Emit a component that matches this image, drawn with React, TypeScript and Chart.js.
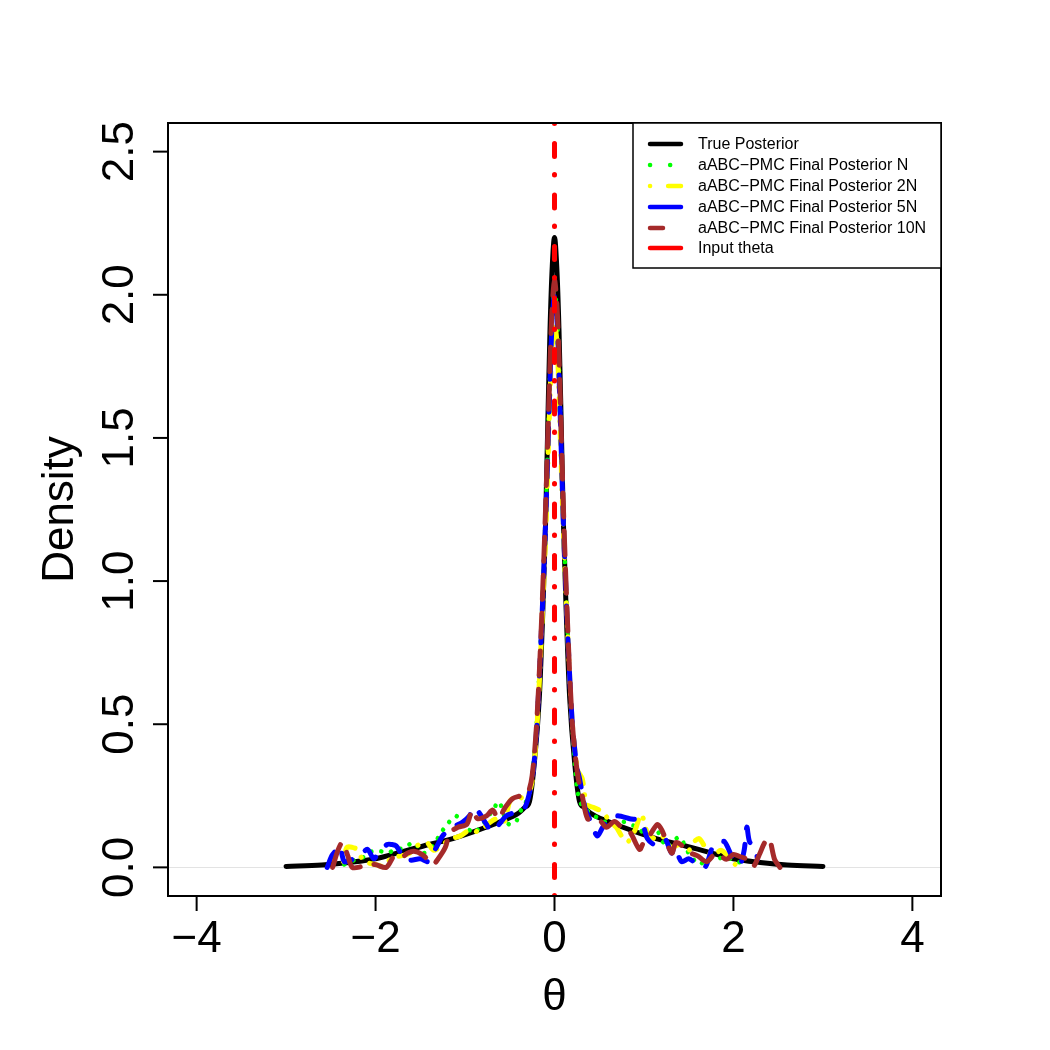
import React, { useEffect, useRef } from "react";
import { Chart, registerables } from "chart.js";

Chart.register(...registerables);

// ---------- axes ----------
const xLimits = [-4.32, 4.32];
const yLimits = [-0.1, 2.6];
const xTicks = [-4, -2, 0, 2, 4];
const xTickLabels = ["\u22124", "\u22122", "0", "2", "4"];
const yTicks = [0, 0.5, 1, 1.5, 2, 2.5];
const yTickLabels = ["0.0", "0.5", "1.0", "1.5", "2.0", "2.5"];
const xTitle = "\u03b8";
const yTitle = "Density";
const inputTheta = 0;

// ---------- series ----------
const trueX = [-3, -2.6, -2.3, -2, -1.7, -1.4, -1.2, -0.9, -0.6, -0.4, -0.33, -0.28, -0.23, -0.17, -0.13, -0.1, -0.075, -0.05, -0.025, 0, 0.025, 0.05, 0.075, 0.1, 0.13, 0.17, 0.23, 0.28, 0.33, 0.4, 0.6, 0.9, 1.2, 1.4, 1.7, 2, 2.3, 2.6, 3];
const trueY = [0.003, 0.008, 0.017, 0.03, 0.055, 0.08, 0.095, 0.125, 0.16, 0.19, 0.21, 0.23, 0.35, 0.59, 0.9, 1.2, 1.55, 1.88, 2.1, 2.2, 2.1, 1.88, 1.55, 1.2, 0.9, 0.59, 0.35, 0.23, 0.21, 0.19, 0.16, 0.125, 0.095, 0.08, 0.055, 0.03, 0.017, 0.008, 0.003];

const nX = [-2.35, -2.28, -2.2, -2.1, -2.04, -1.94, -1.86, -1.8, -1.72, -1.67, -1.57, -1.46, -1.35, -1.27, -1.2, -1.1, -1.03, -0.95, -0.9, -0.78, -0.67, -0.62, -0.54, -0.5, -0.43, -0.36, -0.3, -0.25, -0.2, -0.15, -0.1, -0.06, -0.03, 0, 0.03, 0.06, 0.1, 0.15, 0.2, 0.25, 0.3, 0.4, 0.5, 0.64, 0.75, 0.85, 0.92, 1.05, 1.15, 1.25, 1.32, 1.4, 1.5, 1.62, 1.7, 1.81, 1.93, 2.02, 2.1];
const nY = [0.01, 0.02, 0.03, 0.04, 0.056, 0.056, 0.05, 0.06, 0.065, 0.07, 0.087, 0.05, 0.08, 0.12, 0.15, 0.18, 0.14, 0.13, 0.12, 0.16, 0.21, 0.23, 0.16, 0.15, 0.16, 0.21, 0.24, 0.32, 0.5, 0.82, 1.22, 1.63, 1.9, 2.02, 1.92, 1.64, 1.22, 0.8, 0.49, 0.28, 0.22, 0.19, 0.17, 0.15, 0.16, 0.15, 0.14, 0.11, 0.125, 0.07, 0.09, 0.105, 0.05, 0.01, 0.03, 0.03, 0.035, 0.02, 0.017];

const n2X = [-2.36, -2.32, -2.26, -2.21, -2.15, -2.1, -2.0, -1.9, -1.82, -1.72, -1.62, -1.55, -1.43, -1.35, -1.25, -1.15, -1.05, -0.95, -0.84, -0.75, -0.65, -0.56, -0.5, -0.41, -0.35, -0.3, -0.25, -0.2, -0.15, -0.1, -0.06, -0.03, 0, 0.03, 0.06, 0.1, 0.15, 0.2, 0.26, 0.31, 0.36, 0.43, 0.5, 0.56, 0.62, 0.69, 0.75, 0.82, 0.9, 0.97, 1.04, 1.12, 1.2, 1.3, 1.4, 1.5, 1.56, 1.62, 1.71, 1.78, 1.86, 1.95, 2.02];
const n2Y = [0.02, 0.07, 0.07, 0.063, 0.03, 0.017, 0.01, 0.003, 0.035, 0.04, 0.05, 0.073, 0.087, 0.06, 0.08, 0.1, 0.11, 0.13, 0.125, 0.15, 0.17, 0.16, 0.23, 0.25, 0.24, 0.25, 0.3, 0.47, 0.78, 1.15, 1.55, 1.8, 1.9, 1.82, 1.55, 1.17, 0.8, 0.5, 0.34, 0.31, 0.22, 0.21, 0.2, 0.185, 0.16, 0.14, 0.11, 0.09, 0.13, 0.185, 0.12, 0.1, 0.11, 0.07, 0.08, 0.06, 0.09, 0.1, 0.056, 0.04, 0.06, 0.035, 0.01];

const n5X = [-2.54, -2.49, -2.44, -2.4, -2.35, -2.28, -2.21, -2.16, -2.09, -2.02, -1.96, -1.87, -1.82, -1.77, -1.72, -1.68, -1.6, -1.5, -1.41, -1.36, -1.32, -1.25, -1.14, -1.03, -0.95, -0.9, -0.84, -0.76, -0.7, -0.62, -0.54, -0.46, -0.39, -0.33, -0.28, -0.24, -0.2, -0.15, -0.1, -0.06, -0.03, 0, 0.03, 0.06, 0.1, 0.15, 0.2, 0.25, 0.28, 0.34, 0.39, 0.44, 0.48, 0.54, 0.62, 0.7, 0.84, 0.97, 1.04, 1.12, 1.23, 1.31, 1.34, 1.42, 1.5, 1.57, 1.68, 1.77, 1.84, 1.9, 1.99, 2.07, 2.12, 2.15, 2.18, 2.24, 2.27];
const n5Y = [0.0, 0.04, 0.06, 0.075, 0.02, 0.025, 0.035, 0.045, 0.063, 0.03, 0.056, 0.08, 0.08, 0.075, 0.05, 0.028, 0.025, 0.03, 0.02, 0.05, 0.07, 0.11, 0.14, 0.157, 0.18, 0.21, 0.19, 0.15, 0.125, 0.15, 0.18, 0.19, 0.195, 0.21, 0.26, 0.33, 0.48, 0.8, 1.2, 1.6, 1.88, 2.0, 1.9, 1.62, 1.2, 0.8, 0.5, 0.35, 0.31, 0.21, 0.17, 0.13, 0.11, 0.14, 0.17, 0.18, 0.17, 0.16, 0.1, 0.08, 0.1, 0.05, 0.073, 0.02, 0.03, 0.017, 0.0, 0.073, 0.085, 0.09, 0.035, 0.01, 0.06, 0.14, 0.09, 0.07, 0.028];

const n10X = [-2.48, -2.42, -2.37, -2.31, -2.26, -2.15, -2.01, -1.88, -1.79, -1.71, -1.64, -1.57, -1.48, -1.42, -1.36, -1.3, -1.22, -1.17, -1.08, -0.98, -0.92, -0.86, -0.76, -0.69, -0.63, -0.55, -0.47, -0.38, -0.3, -0.25, -0.2, -0.15, -0.1, -0.06, -0.03, 0, 0.03, 0.06, 0.1, 0.15, 0.2, 0.26, 0.31, 0.37, 0.45, 0.52, 0.58, 0.67, 0.75, 0.84, 0.95, 1.0, 1.06, 1.15, 1.2, 1.31, 1.36, 1.45, 1.51, 1.6, 1.7, 1.81, 1.92, 2.0, 2.07, 2.15, 2.22, 2.29, 2.35, 2.4, 2.46, 2.52];
const n10Y = [0.0, 0.06, 0.087, 0.04, 0.0, 0.003, 0.01, 0.0, 0.04, 0.035, 0.05, 0.056, 0.045, 0.028, 0.01, 0.03, 0.07, 0.12, 0.14, 0.15, 0.2, 0.17, 0.18, 0.2, 0.17, 0.21, 0.24, 0.25, 0.26, 0.32, 0.5, 0.82, 1.25, 1.65, 1.93, 2.05, 1.95, 1.68, 1.25, 0.82, 0.5, 0.32, 0.25, 0.17, 0.17, 0.16, 0.14, 0.16, 0.14, 0.125, 0.063, 0.09, 0.11, 0.15, 0.13, 0.05, 0.087, 0.07, 0.052, 0.04, 0.02, 0.05, 0.028, 0.045, 0.038, 0.028, 0.003, 0.045, 0.087, 0.1, 0.028, 0.0];

const seriesLabels = [
  "True Posterior",
  "aABC\u2212PMC Final Posterior N",
  "aABC\u2212PMC Final Posterior 2N",
  "aABC\u2212PMC Final Posterior 5N",
  "aABC\u2212PMC Final Posterior 10N",
  "Input theta",
];

const FONT = '"Liberation Sans", Arial, Helvetica, sans-serif';

const toPoints = (xs: number[], ys: number[]) => xs.map((x, i) => ({ x, y: ys[i] }));

const rPlotPlugin = {
  id: "rPlot",
  beforeDraw(chart: any) {
    const { ctx, width, height } = chart;
    ctx.save();
    ctx.fillStyle = "#ffffff";
    ctx.fillRect(0, 0, width, height);
    ctx.restore();
  },
  beforeDatasetsDraw(chart: any) {
    const { ctx, chartArea: a, scales } = chart;
    const y0 = Math.round(scales.y.getPixelForValue(0)) + 0.5;
    ctx.save();
    ctx.strokeStyle = "#e3e3e3";
    ctx.lineWidth = 1;
    ctx.beginPath();
    ctx.moveTo(a.left, y0);
    ctx.lineTo(a.right, y0);
    ctx.stroke();
    ctx.restore();
  },
  afterDraw(chart: any) {
    const { ctx, chartArea: a, scales } = chart;
    ctx.save();
    // box
    ctx.strokeStyle = "#000";
    ctx.lineWidth = 2;
    ctx.strokeRect(a.left, a.top, a.right - a.left, a.bottom - a.top);

    // x ticks + labels
    ctx.fillStyle = "#000";
    ctx.font = `44px ${FONT}`;
    ctx.textAlign = "center";
    ctx.textBaseline = "alphabetic";
    xTicks.forEach((v, i) => {
      const px = scales.x.getPixelForValue(v);
      ctx.beginPath();
      ctx.moveTo(px, a.bottom);
      ctx.lineTo(px, a.bottom + 15);
      ctx.stroke();
      ctx.fillText(xTickLabels[i], px, 952);
    });

    // y ticks + rotated labels
    yTicks.forEach((v, i) => {
      const py = scales.y.getPixelForValue(v);
      ctx.beginPath();
      ctx.moveTo(a.left, py);
      ctx.lineTo(a.left - 15, py);
      ctx.stroke();
      ctx.save();
      ctx.translate(133, py);
      ctx.rotate(-Math.PI / 2);
      ctx.fillText(yTickLabels[i], 0, 0);
      ctx.restore();
    });

    // titles
    ctx.font = `44px ${FONT}`;
    ctx.fillText(xTitle, (a.left + a.right) / 2, 1010);
    ctx.save();
    ctx.translate(73, (a.top + a.bottom) / 2);
    ctx.rotate(-Math.PI / 2);
    ctx.fillText(yTitle, 0, 0);
    ctx.restore();

    // legend
    const lx0 = 633, lx1 = a.right, ly0 = a.top, ly1 = 268;
    ctx.fillStyle = "#fff";
    ctx.fillRect(lx0, ly0, lx1 - lx0, ly1 - ly0);
    ctx.strokeStyle = "#000";
    ctx.lineWidth = 1.5;
    ctx.strokeRect(lx0, ly0, lx1 - lx0, ly1 - ly0);
    const rows = [144, 165, 186, 207, 228, 248];
    const legendStyles = [
      { color: "#000000", dash: [] as number[] },
      { color: "#00ff00", dash: [0.1, 20] },
      { color: "#ffff00", dash: [0.1, 18, 16, 40] },
      { color: "#0000ff", dash: [] as number[] },
      { color: "#a52a2a", dash: [13, 40] },
      { color: "#ff0000", dash: [] as number[] },
    ];
    ctx.font = `16px ${FONT}`;
    ctx.textAlign = "left";
    ctx.textBaseline = "middle";
    rows.forEach((ry, i) => {
      const st = legendStyles[i];
      ctx.save();
      ctx.strokeStyle = st.color;
      ctx.lineWidth = 4.5;
      ctx.lineCap = "round";
      ctx.setLineDash(st.dash);
      ctx.beginPath();
      ctx.moveTo(650, ry);
      ctx.lineTo(681, ry);
      ctx.stroke();
      ctx.restore();
      ctx.fillStyle = "#000";
      ctx.fillText(seriesLabels[i], 698, ry + 1);
    });
    ctx.restore();
  },
};

export default function App() {
  const canvasRef = useRef<HTMLCanvasElement | null>(null);

  useEffect(() => {
    if (!canvasRef.current) return;
    const common = {
      pointRadius: 0,
      pointHoverRadius: 0,
      fill: false,
      borderCapStyle: "round",
      borderJoinStyle: "round",
    };
    const chart = new Chart(canvasRef.current, {
      type: "line",
      data: {
        datasets: [
          {
            ...common,
            label: seriesLabels[0],
            data: toPoints(trueX, trueY),
            borderColor: "#000000",
            borderWidth: 5,
            cubicInterpolationMode: "monotone",
            order: 6,
          },
          {
            ...common,
            label: seriesLabels[1],
            data: toPoints(nX, nY),
            borderColor: "#00ff00",
            borderWidth: 4.5,
            borderDash: [0.1, 10],
            tension: 0.3,
            order: 5,
          },
          {
            ...common,
            label: seriesLabels[2],
            data: toPoints(n2X, n2Y),
            borderColor: "#ffff00",
            borderWidth: 5,
            borderDash: [0.1, 11, 12, 11],
            tension: 0.3,
            order: 4,
          },
          {
            ...common,
            label: seriesLabels[3],
            data: toPoints(n5X, n5Y),
            borderColor: "#0000ff",
            borderWidth: 5,
            borderDash: [17, 16],
            tension: 0.3,
            order: 3,
          },
          {
            ...common,
            label: seriesLabels[4],
            data: toPoints(n10X, n10Y),
            borderColor: "#a52a2a",
            borderWidth: 5,
            borderDash: [24, 14],
            tension: 0.3,
            order: 2,
          },
          {
            ...common,
            label: seriesLabels[5],
            data: [
              { x: inputTheta, y: yLimits[0] },
              { x: inputTheta, y: yLimits[1] },
            ],
            borderColor: "#ff0000",
            borderWidth: 5,
            borderDash: [0.5, 18, 13, 20],
            tension: 0,
            order: 1,
          },
        ],
      } as any,
      options: {
        animation: false,
        responsive: false,
        devicePixelRatio: 1,
        parsing: true,
        layout: { padding: { left: 168, top: 123, right: 109, bottom: 154 } },
        plugins: {
          legend: { display: false },
          tooltip: { enabled: false },
          title: { display: false },
        },
        events: [],
        scales: {
          x: { type: "linear", min: xLimits[0], max: xLimits[1], display: false },
          y: { type: "linear", min: yLimits[0], max: yLimits[1], display: false },
        },
      } as any,
      plugins: [rPlotPlugin as any],
    });
    return () => chart.destroy();
  }, []);

  return (
    <div style={{ position: "absolute", left: 0, top: 0, width: 1050, height: 1050, background: "#fff" }}>
      <canvas ref={canvasRef} width={1050} height={1050} style={{ display: "block" }} />
    </div>
  );
}
